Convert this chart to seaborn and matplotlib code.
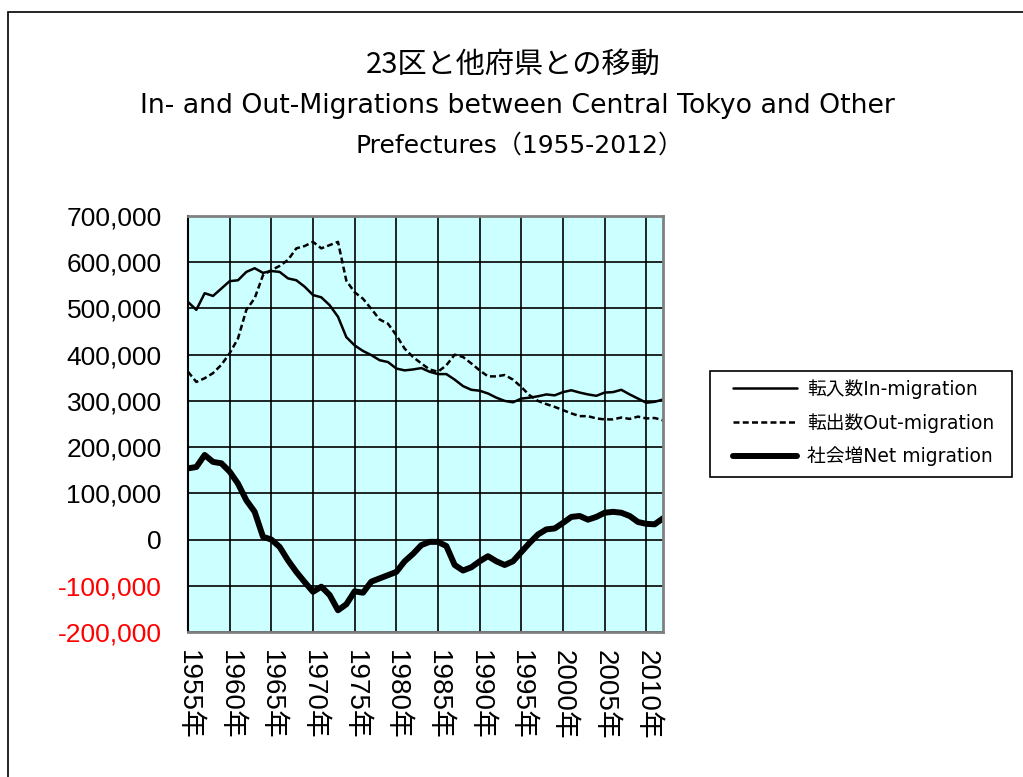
import matplotlib
matplotlib.use("Agg")
import matplotlib.pyplot as plt
from matplotlib.patches import Rectangle
import seaborn as sns
import pandas as pd

# ---- data (thousands of persons) ----
years = list(range(1955, 2013))
in_migration = [514, 497, 533, 527, 543, 559, 561, 579, 587, 577,
                581, 579, 565, 561, 547, 529, 524, 507, 482, 438,
                420, 408, 399, 388, 384, 370, 366, 368, 371, 363,
                358, 358, 346, 332, 324, 322, 316, 307, 300, 297,
                305, 307, 310, 314, 312, 319, 323, 318, 314, 311,
                318, 319, 324, 314, 305, 296, 298, 303]
out_migration = [363, 341, 349, 360, 378, 403, 435, 497, 522, 572,
                 583, 592, 605, 630, 635, 644, 630, 637, 644, 560,
                 535, 521, 499, 476, 467, 442, 413, 395, 381, 368,
                 363, 377, 400, 395, 381, 366, 353, 353, 356, 346,
                 330, 312, 300, 293, 287, 280, 273, 267, 267, 262,
                 260, 260, 264, 261, 266, 262, 263, 258]
net_migration = [154, 157, 183, 168, 165, 147, 121, 85, 60, 6,
                 0, -16, -45, -70, -92, -113, -102, -120, -153, -140,
                 -112, -115, -91, -84, -77, -70, -47, -31, -12, -5,
                 -5, -14, -55, -67, -60, -47, -36, -47, -55, -47,
                 -27, -7, 11, 22, 24, 36, 49, 51, 43, 49,
                 58, 60, 58, 51, 38, 34, 33, 46]
series_labels = ["転入数In-migration", "転出数Out-migration", "社会増Net migration"]
y_ticks = [700000, 600000, 500000, 400000, 300000, 200000, 100000, 0, -100000, -200000]
y_tick_labels = ["700,000", "600,000", "500,000", "400,000", "300,000",
                 "200,000", "100,000", "0", "-100,000", "-200,000"]
x_ticks = [1955, 1960, 1965, 1970, 1975, 1980, 1985, 1990, 1995, 2000, 2005, 2010]
x_tick_labels = [f"{y}年" for y in x_ticks]
title = "23区と他府県との移動"
subtitle1 = "In- and Out-Migrations between Central Tokyo and Other"
subtitle2 = "Prefectures（1955-2012）"

df = pd.DataFrame({
    "year": years * 3,
    "value": [v * 1000 for v in in_migration + out_migration + net_migration],
    "series": [series_labels[0]] * len(years) + [series_labels[1]] * len(years)
              + [series_labels[2]] * len(years),
})

sns.set_style("white")
plt.rcParams["font.family"] = ["Liberation Sans", "Noto Sans CJK JP", "DejaVu Sans"]
plt.rcParams["axes.unicode_minus"] = False
plt.rcParams["text.color"] = "black"
plt.rcParams["xtick.color"] = "black"
plt.rcParams["ytick.color"] = "black"

W, H = 1023, 777
fig = plt.figure(figsize=(W / 100, H / 100), dpi=100)
fig.patch.set_facecolor("white")

# outer chart border
fig.patches.append(Rectangle((8 / W, -0.2), 1.5, 1 - 12 / H + 0.2, transform=fig.transFigure,
                             fill=False, edgecolor="black", linewidth=1.2))
# legend frame
fig.patches.append(Rectangle((710 / W, 1 - 477 / H), (1012 - 710) / W, (477 - 371) / H,
                             transform=fig.transFigure, fill=False,
                             edgecolor="black", linewidth=1.2))

L, R, T, B = 188, 663, 216, 632
ax = fig.add_axes([L / W, 1 - B / H, (R - L) / W, (B - T) / H])
ax.set_facecolor("#CCFFFF")

styles = {
    series_labels[0]: dict(linestyle="-", linewidth=1.8),
    series_labels[1]: dict(linestyle=(0, (2.4, 1.3)), linewidth=1.8),
    series_labels[2]: dict(linestyle="-", linewidth=4.3),
}
for s in series_labels:
    sub = df[df["series"] == s]
    sns.lineplot(data=sub, x="year", y="value", ax=ax, color="black",
                 label=s, **styles[s])

ax.set_xlim(1955, 2012)
ax.set_ylim(-200000, 700000)
ax.set_xticks(x_ticks)
ax.set_xticklabels(x_tick_labels, rotation=270, fontsize=20,
                   family=["Liberation Sans", "Noto Sans CJK JP"])
ax.set_yticks(y_ticks)
ax.set_yticklabels(y_tick_labels, fontsize=19)
for lab, v in zip(ax.get_yticklabels(), y_ticks):
    lab.set_color("#FF0000" if v < 0 else "black")
ax.tick_params(axis="y", direction="out", length=4, width=1.2, pad=15, color="black")
ax.tick_params(axis="x", length=0, pad=13)
ax.set_xlabel("")
ax.set_ylabel("")
ax.grid(True, color="black", linewidth=1.2)
ax.set_axisbelow(True)
for side in ["top", "right", "bottom"]:
    ax.spines[side].set_color("#808080")
    ax.spines[side].set_linewidth(2)
ax.spines["left"].set_color("black")
ax.spines["left"].set_linewidth(1.5)

leg = ax.legend(loc="upper left", bbox_to_anchor=(733 / W, 1 - 379 / H),
                bbox_transform=fig.transFigure, borderaxespad=0, frameon=False,
                prop={"family": ["DejaVu Sans", "Noto Sans CJK JP"], "size": 13.5},
                handlelength=3.4, handletextpad=0.55, labelspacing=0.75,
                borderpad=0)
for t in leg.get_texts():
    t.set_color("black")

fig.text(513 / W, 1 - 65 / H, title, ha="center", va="center", fontsize=21,
         family=["Noto Sans CJK JP"], color="black")
fig.text(517 / W, 1 - 106 / H, subtitle1, ha="center", va="center", fontsize=19.3,
         family=["DejaVu Sans", "Noto Sans CJK JP"], color="black")
fig.text(519 / W, 1 - 146 / H, subtitle2, ha="center", va="center", fontsize=18,
         family=["DejaVu Sans", "Noto Sans CJK JP"], color="black")

fig.savefig("out.png", dpi=100)
